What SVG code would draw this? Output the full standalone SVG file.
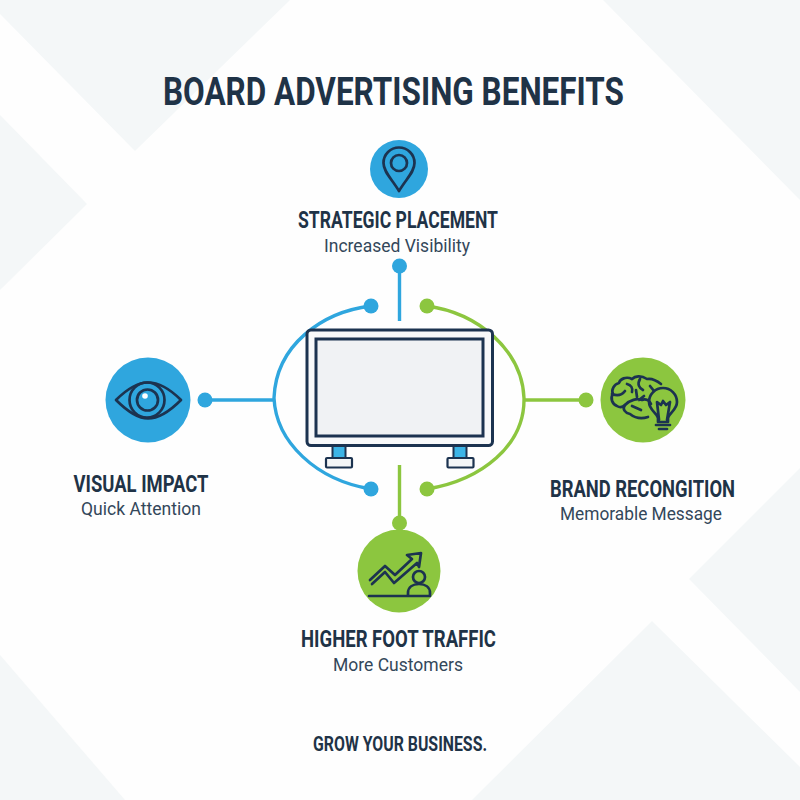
<svg xmlns="http://www.w3.org/2000/svg" width="800" height="800" viewBox="0 0 800 800">
<style>
.t{font-family:Roboto,"Liberation Sans",sans-serif;text-anchor:middle;fill:#1f3347}
.h{font-weight:700;font-size:24px}
.s{font-weight:400;font-size:19px;fill:#33475a}
.ic{fill:none;stroke:#1c3350;stroke-width:2.700;stroke-linecap:round;stroke-linejoin:round}
.b{fill:none;stroke:#2fa6de;stroke-width:3.400}
.g{fill:none;stroke:#8cc63f;stroke-width:3.400}
.bf{fill:#2fa6de}.gf{fill:#8cc63f}
.bg{fill:#f4f7f8}
</style>
<rect width="800" height="800" fill="#fefefe"/>
<g id="background">
<polygon class="bg" points="0,0 290,0 135,151 0,14"/>
<polygon class="bg" points="0,115 87,204 0,290"/>
<polygon class="bg" points="603,0 800,0 800,200"/>
<polygon class="bg" points="800,468 689,579 800,692"/>
<polygon class="bg" points="652,621 800,767 800,800 472,800"/>
<polygon class="bg" points="0,655 125,800 0,800"/>
</g>
<text class="t" x="393.500" y="105" font-size="38" font-weight="700" textLength="461" lengthAdjust="spacingAndGlyphs">BOARD ADVERTISING BENEFITS</text>
<g id="connectors">
<path class="b" d="M399.500 266V321"/>
<circle class="bf" cx="399.500" cy="266" r="7.500"/>
<path class="b" d="M371 306C322 312 276 345 274 398C276 442 316 480 371 489"/>
<circle class="bf" cx="371" cy="306" r="7.500"/>
<circle class="bf" cx="371" cy="489" r="7.500"/>
<path class="b" d="M205 400H275"/>
<circle class="bf" cx="205" cy="400" r="7.500"/>
<path class="g" d="M427 306C478 313 522 350 524 398C525 445 482 480 427 489"/>
<circle class="gf" cx="427" cy="306" r="7.500"/>
<circle class="gf" cx="427" cy="489" r="7.500"/>
<path class="g" d="M524 400H586"/>
<circle class="gf" cx="586" cy="400" r="7.500"/>
<path class="g" d="M399.500 465V523"/>
<circle class="gf" cx="399.500" cy="523" r="7.500"/>
</g>
<g id="board">
<rect x="332.500" y="446" width="13" height="12" fill="#3cb4e6" stroke="#1c3350" stroke-width="2"/>
<rect x="453.500" y="446" width="13" height="12" fill="#3cb4e6" stroke="#1c3350" stroke-width="2"/>
<rect x="326" y="458" width="26" height="9.500" rx="1" fill="#f4f6f7" stroke="#1c3350" stroke-width="2.200"/>
<rect x="447.500" y="458" width="26" height="9.500" rx="1" fill="#f4f6f7" stroke="#1c3350" stroke-width="2.200"/>
<rect x="307" y="330" width="185.500" height="115.500" rx="4" fill="#f8f9fa" stroke="#1c3350" stroke-width="3"/>
<rect x="316" y="339" width="167" height="97" fill="#f0f2f4" stroke="#1c3350" stroke-width="3"/>
</g>
<g id="strategic">
<circle class="bf" cx="399" cy="169" r="29"/>
<path class="ic" d="M399 191C392 179 383.500 172 383.500 163A15.500 15.500 0 0 1 414.500 163C414.500 172 406 179 399 191Z"/>
<circle class="ic" cx="399" cy="163" r="8"/>
<text class="t h" x="398" y="228" textLength="200" lengthAdjust="spacingAndGlyphs">STRATEGIC PLACEMENT</text>
<text class="t s" x="397" y="252" textLength="146" lengthAdjust="spacingAndGlyphs">Increased Visibility</text>
</g>
<g id="visual">
<circle class="bf" cx="148" cy="400" r="42.500"/>
<path class="ic" d="M116 400C127 389 137 382.500 148 382.500C159 382.500 170 389 181 400C170 411 159 418.500 148 418.500C137 418.500 127 411 116 400Z"/>
<circle class="ic" cx="147" cy="400" r="17.500"/>
<circle class="ic" cx="147.500" cy="400" r="10.500"/>
<circle cx="145" cy="396" r="2.800" fill="#fff"/>
<text class="t h" x="141" y="492" textLength="135" lengthAdjust="spacingAndGlyphs">VISUAL IMPACT</text>
<text class="t s" x="141" y="515" textLength="120" lengthAdjust="spacingAndGlyphs">Quick Attention</text>
</g>
<g id="brand">
<circle class="gf" cx="643" cy="400" r="42.500"/>
<path class="ic" d="M661 384C656 380 652 378 647 379C641 375 635 376 632 379C626 376 620 379 619 383C614 384 611 390 613 394C610 398 612 404 617 406C620 408 623 407 625 405C622 409 625 413 630 414C635 418 642 419 648 417"/>
<path class="ic" d="M625 405C630 400 637 398 642 400C646 398 650 401 651 404M627 384C631 385 633 388 632 392M612 394C617 396 622 395 625 391M640 379C637 384 639 388 643 390M636 390L637 397M650 386L654 391M632 406L641 410M639 400L644 396"/>
<path class="ic" d="M658 422V418C657 413 649 410 649 402A14 14 0 0 1 677 402C677 410 669 413 668 418V422Z"/>
<path class="ic" d="M659 420L657 402L661 405L663 401L666 405L670 402L667 420M656 425H670M659 429H667"/>
<text class="t h" x="642.500" y="497" textLength="185" lengthAdjust="spacingAndGlyphs">BRAND RECONGITION</text>
<text class="t s" x="641" y="520" textLength="162" lengthAdjust="spacingAndGlyphs">Memorable Message</text>
</g>
<g id="traffic">
<circle class="gf" cx="399" cy="571" r="41.500"/>
<path class="ic" d="M372 584L385 572L394 583L417 563L419 567L421 553L407 555L412 559L395 575L385 566L370 580"/>
<path class="ic" d="M369 596H430"/>
<circle class="ic" cx="419" cy="577" r="6"/>
<path class="ic" d="M408 595V593C408 587 413 584 419 584C425 584 430 587 430 593V595"/>
<text class="t h" x="398.500" y="647" textLength="195" lengthAdjust="spacingAndGlyphs">HIGHER FOOT TRAFFIC</text>
<text class="t s" x="398" y="671" textLength="130" lengthAdjust="spacingAndGlyphs">More Customers</text>
</g>
<text class="t" x="400" y="751" font-size="21" font-weight="700" textLength="174" lengthAdjust="spacingAndGlyphs">GROW YOUR BUSINESS.</text>
</svg>
